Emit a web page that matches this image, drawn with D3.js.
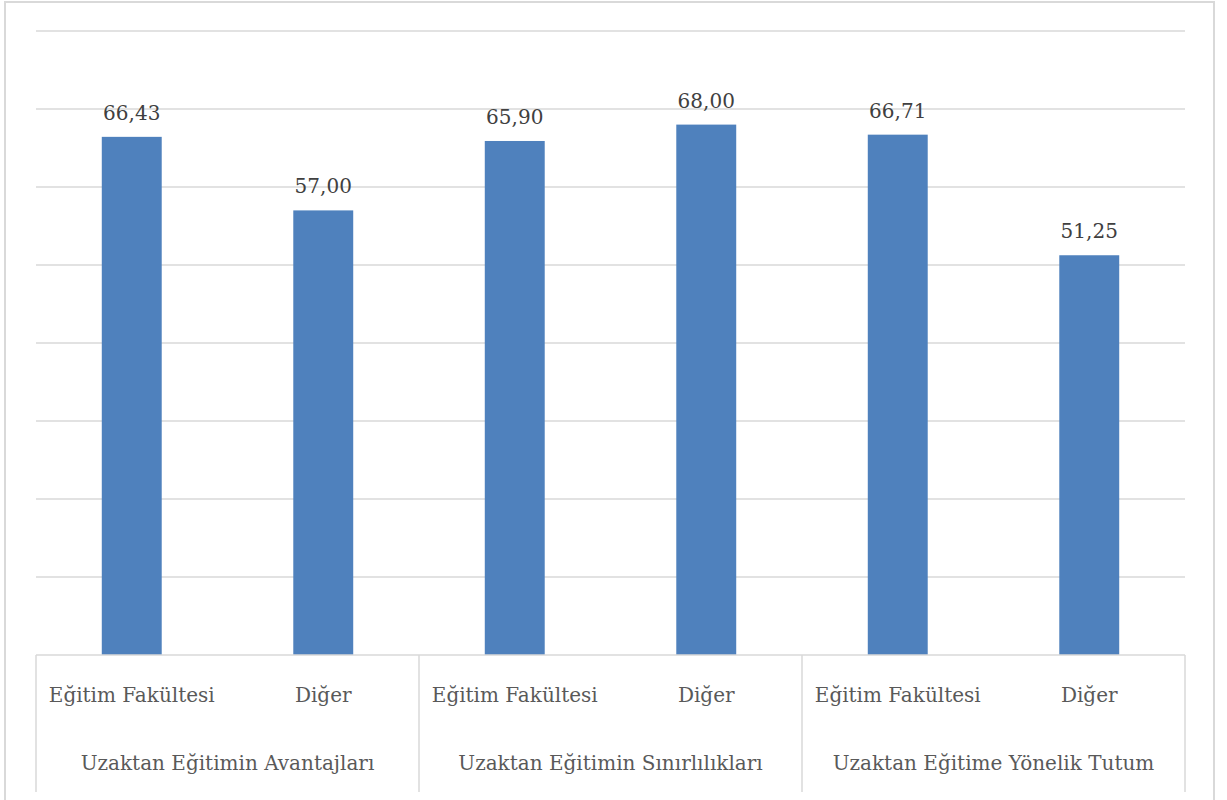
<!DOCTYPE html>
<html>
<head>
<meta charset="utf-8">
<script src="https://cdn.jsdelivr.net/npm/d3@7"></script>
<style>
  body { margin: 0; background: #fff; }
  svg { display: block; }
</style>
</head>
<body>
<div id="chart"></div>
<script>
// groups on the outer axis, bars inside each group
const groups = ["Uzaktan Eğitimin Avantajları", "Uzaktan Eğitimin Sınırlılıkları", "Uzaktan Eğitime Yönelik Tutum"];
const subCats = ["Eğitim Fakültesi", "Diğer"];
const values = [66.43, 57.00, 65.90, 68.00, 66.71, 51.25];
const yTicks = [0, 10, 20, 30, 40, 50, 60, 70, 80];

const width = 1227, height = 800;
const margin = {left: 36, right: 42, top: 31, bottom: 145};
const font = "'DejaVu Serif', serif";

const svg = d3.select("#chart").append("svg")
  .attr("width", width)
  .attr("height", height);

// outer chart border
svg.append("rect")
  .attr("x", 5).attr("y", 2)
  .attr("width", 1209).attr("height", 810)
  .attr("fill", "none")
  .attr("stroke", "#d9d9d9")
  .attr("stroke-width", 2);

// one slot per bar
const rows = [];
groups.forEach((g, gi) => subCats.forEach((s, si) => {
  rows.push({group: g, sub: s, key: gi + "-" + si, value: values[gi * 2 + si]});
}));

const x = d3.scaleBand()
  .domain(rows.map(d => d.key))
  .range([margin.left, width - margin.right])
  .paddingInner(0.687)
  .paddingOuter(0.3435);

const xGroup = d3.scaleBand()
  .domain(groups)
  .range([margin.left, width - margin.right]);

const y = d3.scaleLinear()
  .domain([0, 80])
  .range([height - margin.bottom, margin.top]);

// gridlines
svg.append("g")
  .selectAll("line")
  .data(yTicks.slice(1))
  .enter().append("line")
  .attr("x1", margin.left)
  .attr("x2", width - margin.right)
  .attr("y1", d => y(d))
  .attr("y2", d => y(d))
  .attr("stroke", "#d9d9d9")
  .attr("stroke-width", 1.5);

// bars
svg.append("g")
  .selectAll("rect")
  .data(rows)
  .enter().append("rect")
  .attr("x", d => x(d.key))
  .attr("y", d => y(d.value))
  .attr("width", x.bandwidth())
  .attr("height", d => y(0) - y(d.value))
  .attr("fill", "#4f81bd");

// value labels
svg.append("g")
  .selectAll("text")
  .data(rows)
  .enter().append("text")
  .attr("x", d => x(d.key) + x.bandwidth() / 2)
  .attr("y", d => y(d.value) - 17)
  .attr("text-anchor", "middle")
  .attr("font-family", font)
  .attr("font-size", 20)
  .attr("fill", "#404040")
  .text(d => d3.format(".2f")(d.value).replace(".", ","));

// category axis: baseline + separators
const axisBottom = height - 8;
svg.append("line")
  .attr("x1", margin.left).attr("x2", width - margin.right)
  .attr("y1", y(0)).attr("y2", y(0))
  .attr("stroke", "#d9d9d9")
  .attr("stroke-width", 1.5);

const seps = groups.map(g => xGroup(g)).concat([width - margin.right]);
svg.append("g")
  .selectAll("line")
  .data(seps)
  .enter().append("line")
  .attr("x1", d => d).attr("x2", d => d)
  .attr("y1", y(0)).attr("y2", axisBottom)
  .attr("stroke", "#d9d9d9")
  .attr("stroke-width", 1.5);

// sub-category labels
svg.append("g")
  .selectAll("text")
  .data(rows)
  .enter().append("text")
  .attr("x", d => x(d.key) + x.bandwidth() / 2)
  .attr("y", 702)
  .attr("text-anchor", "middle")
  .attr("font-family", font)
  .attr("font-size", 20)
  .attr("fill", "#595959")
  .text(d => d.sub);

// group labels
svg.append("g")
  .selectAll("text")
  .data(groups)
  .enter().append("text")
  .attr("x", d => xGroup(d) + xGroup.bandwidth() / 2)
  .attr("y", 770)
  .attr("text-anchor", "middle")
  .attr("font-family", font)
  .attr("font-size", 20)
  .attr("fill", "#595959")
  .text(d => d);
</script>
</body>
</html>
